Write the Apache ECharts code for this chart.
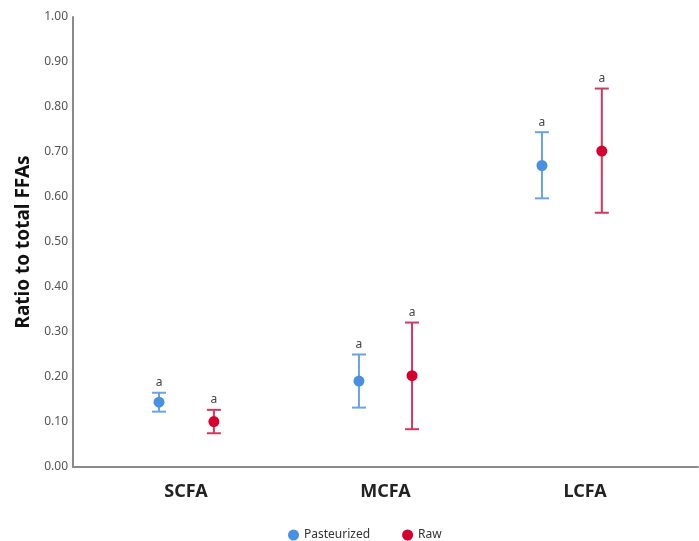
<!DOCTYPE html>
<html>
<head>
<meta charset="utf-8">
<script src="https://cdn.jsdelivr.net/npm/echarts@6/dist/echarts.min.js"></script>
<style>html,body{margin:0;padding:0;background:#fff;}#c{width:699px;height:541px;}</style>
</head>
<body>
<div id="c"></div>
<script>
const categories = ['SCFA', 'MCFA', 'LCFA'];
const seriesNames = ['Pasteurized', 'Raw'];
// x position of each point on the category scale (1 = SCFA, 2 = MCFA, 3 = LCFA)
const pastX = [0.865, 1.867, 2.784];
const rawX = [1.140, 2.133, 3.084];
const pastMean = [0.144, 0.191, 0.670];
const pastLow = [0.123, 0.132, 0.597];
const pastHigh = [0.165, 0.250, 0.744];
const rawMean = [0.101, 0.203, 0.702];
const rawLow = [0.075, 0.084, 0.565];
const rawHigh = [0.127, 0.321, 0.841];
const pastLetters = ['a', 'a', 'a'];
const rawLetters = ['a', 'a', 'a'];
const yTicks = [0, 0.1, 0.2, 0.3, 0.4, 0.5, 0.6, 0.7, 0.8, 0.9, 1.0];

const FONT = 'Noto Sans';
const colors = {
  Pasteurized: { dot: '#4A90E2', line: '#6AA3E3' },
  Raw: { dot: '#D5002F', line: '#D2385E' }
};

function errData(xs, lo, hi) { return xs.map((x, i) => [x, lo[i], hi[i]]); }
function ptData(xs, m) { return xs.map((x, i) => [x, m[i]]); }

function errSeries(name, xs, lo, hi, letters) {
  return {
    type: 'custom',
    name: name + ' error',
    data: errData(xs, lo, hi),
    z: 2,
    renderItem: function (params, api) {
      const x = api.value(0);
      const pLo = api.coord([x, api.value(1)]);
      const pHi = api.coord([x, api.value(2)]);
      const hw = 7;
      const st = { stroke: colors[name].line, lineWidth: 2 };
      return {
        type: 'group',
        children: [
          { type: 'line', shape: { x1: pLo[0], y1: pLo[1], x2: pHi[0], y2: pHi[1] }, style: st },
          { type: 'line', shape: { x1: pLo[0] - hw, y1: pLo[1], x2: pLo[0] + hw, y2: pLo[1] }, style: st },
          { type: 'line', shape: { x1: pHi[0] - hw, y1: pHi[1], x2: pHi[0] + hw, y2: pHi[1] }, style: st },
          { type: 'text', style: { text: letters[params.dataIndex], x: pHi[0], y: pHi[1] - 10,
              textAlign: 'center', textVerticalAlign: 'middle', fill: '#444', font: '12px "' + FONT + '"' } }
        ]
      };
    }
  };
}

const chart = echarts.init(document.getElementById('c'), null, { renderer: 'canvas' });
chart.setOption({
  animation: false,
  backgroundColor: '#fff',
  textStyle: { fontFamily: FONT },
  grid: { left: 73, right: 1, top: 17, bottom: 74 },
  legend: {
    data: seriesNames.map(n => ({ name: n, icon: 'circle' })),
    left: 283, top: 524,
    itemWidth: 11, itemHeight: 11, itemGap: 32,
    textStyle: { fontSize: 12, color: '#333', fontFamily: FONT }
  },
  xAxis: {
    type: 'value', min: 0.434, max: 3.566,
    axisLine: { show: true, onZero: false, lineStyle: { color: '#8a8a8a', width: 2 } },
    axisTick: { show: false },
    splitLine: { show: false },
    axisLabel: {
      customValues: [1, 2, 3],
      formatter: v => categories[Math.round(v) - 1] || '',
      fontSize: 18, fontWeight: 'bold', color: '#222', margin: 16, fontFamily: FONT
    }
  },
  yAxis: {
    type: 'value', min: 0, max: 1, interval: 0.1,
    name: 'Ratio to total FFAs', nameLocation: 'middle', nameGap: 40,
    nameTextStyle: { fontSize: 19, fontWeight: 'bold', color: '#111', fontFamily: FONT },
    axisLine: { show: true, lineStyle: { color: '#8a8a8a', width: 2 } },
    axisTick: { show: false },
    splitLine: { show: false },
    axisLabel: {
      customValues: yTicks,
      formatter: v => v.toFixed(2), fontSize: 12, color: '#555', margin: 5, fontFamily: FONT
    }
  },
  series: [
    errSeries('Pasteurized', pastX, pastLow, pastHigh, pastLetters),
    errSeries('Raw', rawX, rawLow, rawHigh, rawLetters),
    { type: 'scatter', name: 'Pasteurized', data: ptData(pastX, pastMean), symbolSize: 11, z: 3,
      itemStyle: { color: colors.Pasteurized.dot, opacity: 1 } },
    { type: 'scatter', name: 'Raw', data: ptData(rawX, rawMean), symbolSize: 11, z: 3,
      itemStyle: { color: colors.Raw.dot, opacity: 1 } }
  ]
});
</script>
</body>
</html>
